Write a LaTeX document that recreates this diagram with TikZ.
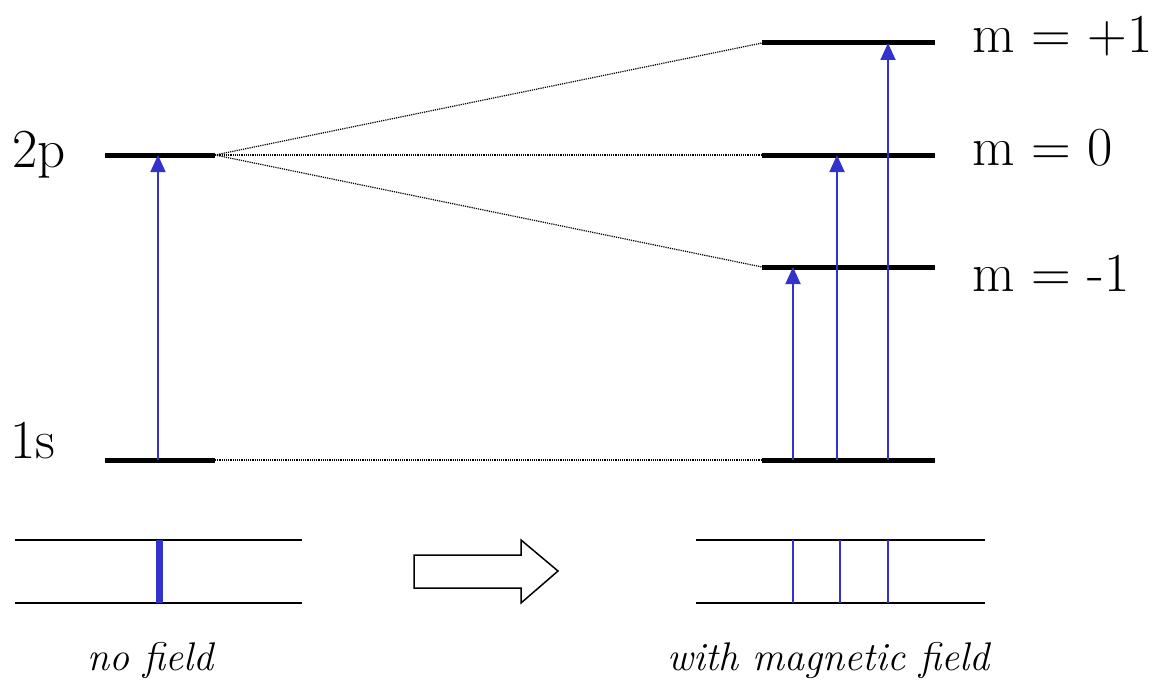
\documentclass[tikz,border=0pt]{standalone}
\usepackage{fontspec}
\usetikzlibrary{arrows.meta}
\definecolor{trans}{HTML}{3333CC}
\tikzset{
  level/.style={line width=5pt, black},
  corr/.style={densely dotted, line width=1.2pt},
  trarrow/.style={trans, line width=1.8pt, -{Triangle[width=15pt,length=17pt]}, shorten >=-2pt},
  speclim/.style={line width=1.5pt, black},
  label/.style={font=\fontsize{55}{62}\selectfont, inner sep=0pt},
  caption/.style={font=\fontsize{40}{46}\selectfont\itshape, inner sep=0pt}
}
\begin{document}
\begin{tikzpicture}[x=1pt,y=-1pt]
\useasboundingbox (0,0) rectangle (1172,685);
% left levels
\coordinate (pL) at (105,155); \coordinate (pR) at (215,155);
\coordinate (sL) at (105,460); \coordinate (sR) at (215,460);
% right levels
\coordinate (m1L) at (762,43);  \coordinate (m1R) at (935,43);
\coordinate (m0L) at (762,155); \coordinate (m0R) at (935,155);
\coordinate (mmL) at (762,267); \coordinate (mmR) at (935,267);
\coordinate (gL) at (762,460);  \coordinate (gR) at (935,460);
% correlation lines
\draw[corr] (pR) -- (m1L);
\draw[corr] (pR) -- (m0L);
\draw[corr] (pR) -- (mmL);
\draw[corr] (sR) -- (gL);
% levels
\draw[level] (pL) -- (pR);
\draw[level] (sL) -- (sR);
\draw[level] (m1L) -- (m1R);
\draw[level] (m0L) -- (m0R);
\draw[level] (mmL) -- (mmR);
\draw[level] (gL) -- (gR);
% labels
\node[label, anchor=west] (l2p) at (12,155) {2p};
\node[label, anchor=west] (l1s) at (10,441) {1s};
\node[label, anchor=west] (lp1) at (972,36) {m = +1};
\node[label, anchor=west] (l0) at (972,148) {m = 0};
\node[label, anchor=west] (lm1) at (972,273) {m = -1};
% transitions
\coordinate (a0s) at (158,460); \coordinate (a0e) at (158,157);
\coordinate (a1s) at (793,460); \coordinate (a1e) at (793,269);
\coordinate (a2s) at (837,460); \coordinate (a2e) at (837,157);
\coordinate (a3s) at (888,460); \coordinate (a3e) at (888,45);
\draw[trarrow] (a0s) -- (a0e);
\draw[trarrow] (a1s) -- (a1e);
\draw[trarrow] (a2s) -- (a2e);
\draw[trarrow] (a3s) -- (a3e);
% spectra
\coordinate (s1a) at (15,540); \coordinate (s1b) at (302,540);
\coordinate (s1c) at (15,603); \coordinate (s1d) at (302,603);
\draw[speclim] (s1a) -- (s1b);
\draw[speclim] (s1c) -- (s1d);
\coordinate (b0t) at (159,540); \coordinate (b0b) at (159,603);
\draw[trans, line width=7pt] (b0t) -- (b0b);
\coordinate (s2a) at (696,540); \coordinate (s2b) at (985,540);
\coordinate (s2c) at (696,603); \coordinate (s2d) at (985,603);
\draw[speclim] (s2a) -- (s2b);
\draw[speclim] (s2c) -- (s2d);
\foreach \xx/\nm in {793/b1,840/b2,888/b3}{
  \coordinate (\nm t) at (\xx,540); \coordinate (\nm b) at (\xx,603);
  \draw[trans, line width=2.2pt] (\nm t) -- (\nm b);
}
% big arrow
\draw[line width=1.5pt, line join=miter] (414,555) -- (521,555) -- (521,540) -- (558,571) -- (521,603) -- (521,588) -- (414,588) -- cycle;
% captions
\node[caption] (c1) at (150,660) {no field};
\node[caption] (c2) at (828,660) {with magnetic field};
\end{tikzpicture}
\end{document}
